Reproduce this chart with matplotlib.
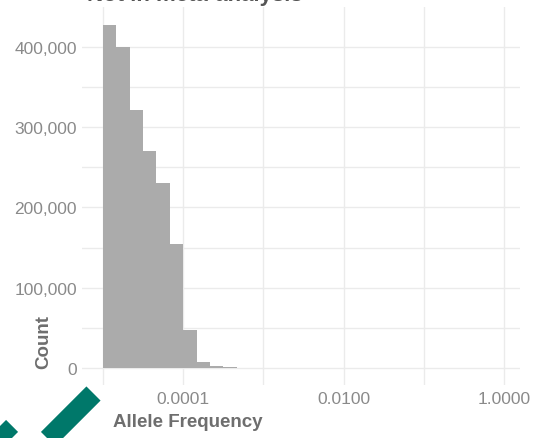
import numpy as np
import matplotlib
matplotlib.use("Agg")
import matplotlib.pyplot as plt
from matplotlib.ticker import FixedLocator, FuncFormatter
from matplotlib.lines import Line2D

plt.rcParams['font.family'] = ['Liberation Sans', 'DejaVu Sans']

# histogram of allele frequency, 6 bins per decade starting at 1e-5
bin_start = -5
bins_per_decade = 6
counts = [427000, 400000, 322000, 270000, 231000, 154500, 47000,
          7900, 2200, 1000, 500, 200, 80, 30]

x_major = [1e-4, 1e-2, 1.0]
x_major_labels = ["0.0001", "0.0100", "1.0000"]
x_minor = [1e-5, 1e-3, 1e-1]
y_major = [0, 100000, 200000, 300000, 400000]
y_minor = [50000, 150000, 250000, 350000]

title = "Not in meta-analysis"
xlabel = "Allele Frequency"
ylabel = "Count"

W, H = 534, 439
fig = plt.figure(figsize=(W / 100, H / 100), dpi=100)
ax = fig.add_axes([82 / W, 1 - 386 / H, (520 - 82) / W, (386 - 8) / H])

edges = 10.0 ** (bin_start + np.arange(len(counts) + 1) / bins_per_decade)
ax.stairs(counts, edges, fill=True, color="#ababab", zorder=2)

ax.set_xscale("log")
ax.set_xlim(10 ** -5.262, 10 ** 0.2)
ax.set_ylim(-21200, 449800)

ax.xaxis.set_major_locator(FixedLocator(x_major))
ax.xaxis.set_minor_locator(FixedLocator(x_minor))
ax.set_xticklabels(x_major_labels)
ax.xaxis.set_minor_formatter(FuncFormatter(lambda v, p: ""))
ax.yaxis.set_major_locator(FixedLocator(y_major))
ax.yaxis.set_minor_locator(FixedLocator(y_minor))
ax.yaxis.set_major_formatter(FuncFormatter(lambda v, p: f"{int(v):,}"))

ax.grid(True, which="both", color="#ebebeb", linewidth=1.0)
ax.set_axisbelow(True)
for s in ax.spines.values():
    s.set_visible(False)
ax.tick_params(which="both", length=0, labelsize=12.5, labelcolor="#8a8a8a")
ax.tick_params(axis="y", pad=3.6)
ax.tick_params(axis="x", pad=4.5)

fig.text(188 / W, 1 - 423 / H, xlabel, ha="center", va="center",
         fontsize=13.5, fontweight="bold", color="#6e6e6e")
fig.text(44 / W, 1 - 342 / H, ylabel, ha="center", va="center", rotation=90,
         fontsize=13.5, fontweight="bold", color="#6e6e6e")
# title sits mostly above the crop, only its lower edge shows
fig.text(87 / W, 1 - 1.5 / H, title, ha="left", va="baseline",
         fontsize=16, fontweight="bold", color="#555555")

# green check mark in the lower left corner
mark = Line2D([-40 / W, 29.5 / W, 93.5 / W],
              [1 - 389 / H, 1 - 458.5 / H, 1 - 394.5 / H],
              transform=fig.transFigure, color="#00786a", linewidth=14.4,
              solid_capstyle="butt", solid_joinstyle="miter")
fig.add_artist(mark)

fig.savefig("out.png", dpi=100)
